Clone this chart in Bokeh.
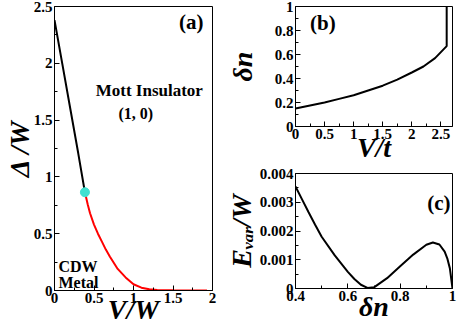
from bokeh.plotting import figure
from bokeh.models import Range1d, FixedTicker, Label
from bokeh.layouts import row, column
from bokeh.embed import file_html
from bokeh.resources import INLINE

# ---------------- data ----------------
# panel (a): phase boundary Delta/W vs V/W
mott_V = [0.0, 0.1, 0.2, 0.3, 0.385]
mott_D = [2.38, 1.99, 1.60, 1.21, 0.865]
cdw_V = [0.385, 0.42, 0.45, 0.5, 0.55, 0.6, 0.65, 0.7, 0.8, 0.9, 1.0, 1.1, 1.2, 1.3, 1.5, 1.7, 1.93]
cdw_D = [0.865, 0.76, 0.68, 0.58, 0.50, 0.43, 0.36, 0.30, 0.19, 0.115, 0.055, 0.025, 0.011, 0.005, 0.0015, 0.0003, 0.0]
crit_V = [0.385]
crit_D = [0.865]

# panel (b): delta n vs V/t
b_V = [0.0, 0.25, 0.5, 0.75, 1.0, 1.25, 1.5, 1.75, 2.0, 2.2, 2.4, 2.5, 2.6, 2.6]
b_dn = [0.15, 0.175, 0.20, 0.23, 0.26, 0.30, 0.34, 0.39, 0.45, 0.50, 0.57, 0.62, 0.67, 1.0]

# panel (c): E_var/W vs delta n
c_dn = [0.4, 0.425, 0.45, 0.475, 0.5, 0.55, 0.6, 0.625, 0.65, 0.675, 0.7, 0.75, 0.8,
        0.85, 0.9, 0.925, 0.95, 0.97, 0.98, 0.99, 1.0]
c_E = [0.00355, 0.0031, 0.00265, 0.00222, 0.0018, 0.00115, 0.00058, 0.00033, 0.00013,
       0.00002, 0.00004, 0.00036, 0.00077, 0.00118, 0.00152, 0.0016, 0.00153, 0.00128,
       0.00105, 0.0007, 0.0]

# ticks
a_xticks = [0, 0.5, 1, 1.5, 2]
a_xlabels = ["0", "0.5", "1", "1.5", "2"]
a_xminor = [0.25, 0.75, 1.25, 1.75]
a_yticks = [0, 0.5, 1, 1.5, 2, 2.5]
a_ylabels = ["0", "0.5", "1", "1.5", "2", "2.5"]
a_yminor = [0.25, 0.75, 1.25, 1.75, 2.25]

b_xticks = [0, 0.5, 1, 1.5, 2, 2.5]
b_xlabels = ["0", "0.5", "1", "1.5", "2", "2.5"]
b_xminor = [0.25, 0.75, 1.25, 1.75, 2.25]
b_yticks = [0, 0.2, 0.4, 0.6, 0.8, 1]
b_ylabels = ["0", "0.2", "0.4", "0.6", "0.8", "1"]
b_yminor = [0.1, 0.3, 0.5, 0.7, 0.9]

c_xticks = [0.4, 0.6, 0.8, 1.0]
c_xlabels = ["0.4", "0.6", "0.8", "1"]
c_xminor = [0.5, 0.7, 0.9]
c_yticks = [0, 0.001, 0.002, 0.003, 0.004]
c_ylabels = ["0", "0.001", "0.002", "0.003", "0.004"]
c_yminor = [0.0005, 0.0015, 0.0025, 0.0035]

FONT = "Liberation Serif"


def style(p, xt, xl, xm, yt, yl, ym, xlab, ylab, xs, ys):
    p.xgrid.visible = False
    p.ygrid.visible = False
    p.outline_line_color = "black"
    p.outline_line_width = 1
    p.xaxis.ticker = FixedTicker(ticks=xt, minor_ticks=xm)
    p.yaxis.ticker = FixedTicker(ticks=yt, minor_ticks=ym)
    p.xaxis.major_label_overrides = {t: s for t, s in zip(xt, xl)}
    p.yaxis.major_label_overrides = {t: s for t, s in zip(yt, yl)}
    p.xaxis.axis_label = xlab
    p.yaxis.axis_label = ylab
    p.xaxis.axis_label_standoff = xs
    p.yaxis.axis_label_standoff = ys
    for ax in (p.xaxis[0], p.yaxis[0]):
        ax.axis_line_color = "black"
        ax.major_tick_in = 5
        ax.major_tick_out = 0
        ax.minor_tick_in = 3
        ax.minor_tick_out = 0
        ax.major_tick_line_color = "black"
        ax.minor_tick_line_color = "black"
        ax.major_label_text_font = FONT
        ax.major_label_text_font_style = "bold"
        ax.major_label_text_font_size = "15px"
        ax.major_label_text_color = "black"
        ax.major_label_standoff = 2
        ax.axis_label_text_font = FONT
        ax.axis_label_text_font_style = "bold italic"
        ax.axis_label_text_font_size = "28px"
        ax.axis_label_text_color = "black"


def lab(p, x, y, text, size, style_="bold", align="center", baseline="middle"):
    p.add_layout(Label(x=x, y=y, text=text, text_font=FONT, text_font_style=style_,
                       text_font_size=size, text_align=align, text_baseline=baseline,
                       text_color="black"))


# ---------------- panel (a) ----------------
pa = figure(width=222, height=330, output_backend="svg", toolbar_location=None,
            x_range=Range1d(0, 2), y_range=Range1d(0, 2.5),
            min_border_left=49, min_border_right=10, min_border_top=6, min_border_bottom=40)
style(pa, a_xticks, a_xlabels, a_xminor, a_yticks, a_ylabels, a_yminor,
      "V/W", "Δ /W", -12, -4)
pa.line(mott_V, mott_D, line_color="black", line_width=2)
pa.line(cdw_V, cdw_D, line_color="red", line_width=2)
pa.scatter(crit_V, crit_D, size=9, fill_color="turquoise", line_color="turquoise")
lab(pa, 1.73, 2.36, "(a)", "21px")
lab(pa, 1.2, 1.76, "Mott Insulator", "17px")
lab(pa, 1.03, 1.56, "(1, 0)", "16px")
lab(pa, 0.05, 0.21, "CDW", "16px", align="left")
lab(pa, 0.05, 0.07, "Metal", "16px", align="left")

# ---------------- panel (b) ----------------
pb = figure(width=235, height=167, output_backend="svg", toolbar_location=None,
            x_range=Range1d(0, 2.7), y_range=Range1d(0, 1),
            min_border_left=68, min_border_right=5, min_border_top=6, min_border_bottom=41)
style(pb, b_xticks, b_xlabels, b_xminor, b_yticks, b_ylabels, b_yminor,
      "V/t", "δn", -10, 14)
pb.line(b_V, b_dn, line_color="black", line_width=2)
lab(pb, 0.47, 0.86, "(b)", "21px")

# ---------------- panel (c) ----------------
pc = figure(width=235, height=163, output_backend="svg", toolbar_location=None,
            x_range=Range1d(0.4, 1.0), y_range=Range1d(0, 0.004),
            min_border_left=68, min_border_right=5, min_border_top=6, min_border_bottom=42)
style(pc, c_xticks, c_xlabels, c_xminor, c_yticks, c_ylabels, c_yminor,
      "δn", "Eᵥₐᵣ/W", -13, 0)
pc.line(c_dn, c_E, line_color="black", line_width=2)
lab(pc, 0.948, 0.00296, "(c)", "21px")

layout = row(pa, column(pb, pc))
open("out.html", "w").write(file_html(layout, INLINE))
